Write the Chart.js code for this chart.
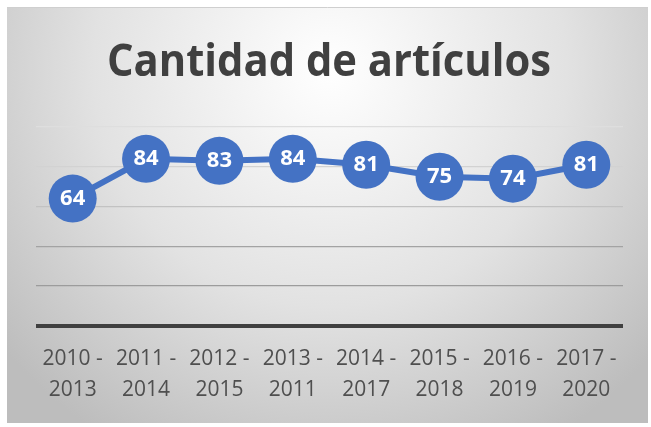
<!DOCTYPE html>
<html>
<head>
<meta charset="utf-8">
<script src="https://cdn.jsdelivr.net/npm/chart.js@4/dist/chart.umd.min.js"></script>
<style>
  html, body { margin: 0; padding: 0; background: #ffffff; }
  #wrap { position: relative; width: 651px; height: 427px; }
</style>
</head>
<body>
<div id="wrap"><canvas id="c" width="651" height="427"></canvas></div>
<script>
const titleText = 'Cantidad de artículos';
const categories = [
  ['2010 -', '2013'], ['2011 -', '2014'], ['2012 -', '2015'], ['2013 -', '2011'],
  ['2014 -', '2017'], ['2015 -', '2018'], ['2016 -', '2019'], ['2017 -', '2020']
];
const articulos = [64, 84, 83, 84, 81, 75, 74, 81];
const yTicks = [0, 20, 40, 60, 80, 100];

const gridColors = {0: '#404040', 20: '#9c9c9c', 40: '#a3a3a3', 60: '#c2c2c2', 80: '#d2d2d2', 100: '#dedede'};

const panelPlugin = {
  id: 'panel',
  beforeDraw(chart) {
    const ctx = chart.ctx;
    ctx.save();
    ctx.fillStyle = '#ffffff';
    ctx.fillRect(0, 0, chart.width, chart.height);
    const x0 = 7, y0 = 7, x1 = 648, y1 = 423;
    const g = ctx.createRadialGradient(330, 70, 0, 330, 70, 430);
    g.addColorStop(0, '#ffffff');
    g.addColorStop(0.55, '#e2e2e2');
    g.addColorStop(1, '#bdbdbd');
    ctx.fillStyle = g;
    ctx.fillRect(x0, y0, x1 - x0, y1 - y0);
    ctx.strokeStyle = '#cfcfcf';
    ctx.lineWidth = 1;
    ctx.beginPath();
    ctx.moveTo(x0, y0 + 0.5);
    ctx.lineTo(x1, y0 + 0.5);
    ctx.stroke();
    // title
    ctx.font = 'bold 45px "Open Sans"';
    ctx.fillStyle = '#404040';
    ctx.textBaseline = 'middle';
    ctx.textAlign = 'center';
    const w = ctx.measureText(titleText).width;
    const sx = 444 / w;
    ctx.translate(329, 63);
    ctx.scale(sx, 1);
    ctx.fillText(titleText, 0, 0);
    ctx.restore();
  }
};

const labelPlugin = {
  id: 'pointLabels',
  afterDatasetsDraw(chart) {
    const ctx = chart.ctx;
    const meta = chart.getDatasetMeta(0);
    ctx.save();
    ctx.font = 'bold 22px "Open Sans"';
    ctx.fillStyle = '#ffffff';
    ctx.textAlign = 'center';
    ctx.textBaseline = 'middle';
    meta.data.forEach((pt, i) => {
      ctx.fillText(String(chart.data.datasets[0].data[i]), pt.x, pt.y);
    });
    ctx.restore();
  }
};

new Chart(document.getElementById('c'), {
  type: 'line',
  data: {
    labels: categories,
    datasets: [{
      data: articulos,
      borderColor: '#4472C4',
      backgroundColor: '#4472C4',
      borderWidth: 6,
      pointRadius: 24,
      pointHoverRadius: 24,
      pointBorderWidth: 0,
      pointBackgroundColor: '#4472C4',
      tension: 0
    }]
  },
  options: {
    responsive: false,
    animation: false,
    events: [],
    layout: { padding: { left: 36, right: 28, top: 127, bottom: 3 } },
    plugins: { legend: { display: false }, title: { display: false }, tooltip: { enabled: false } },
    scales: {
      x: {
        offset: true,
        grid: { display: false, drawTicks: false },
        border: { display: false },
        ticks: {
          color: '#4f4f4f',
          font: { family: '"Open Sans"', size: 21, lineHeight: 1.48 },
          padding: 18,
          maxRotation: 0,
          autoSkip: false
        }
      },
      y: {
        min: 0, max: 100,
        afterBuildTicks(axis) { axis.ticks = yTicks.map(v => ({ value: v })); },
        ticks: { display: false },
        border: { display: false },
        grid: {
          drawTicks: false,
          color: c => gridColors[c.tick.value] || '#c0c0c0',
          lineWidth: c => c.tick.value === 0 ? 4 : 1.2
        }
      }
    }
  },
  plugins: [panelPlugin, labelPlugin]
});
</script>
</body>
</html>
